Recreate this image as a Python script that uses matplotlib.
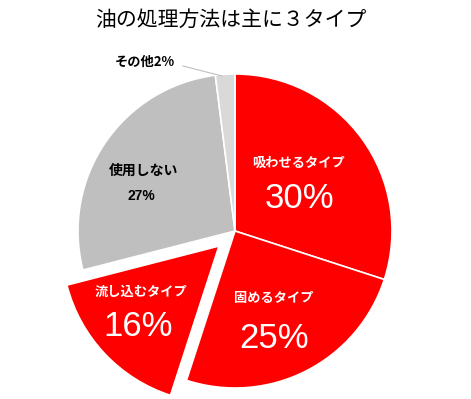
import matplotlib
matplotlib.use("Agg")
import matplotlib.pyplot as plt

# === Data ===

labels = ["吸わせるタイプ", "固めるタイプ", "流し込むタイプ", "使用しない", "その他"]
shares = [30, 25, 16, 27, 2]
colors = ["#FF0000", "#FF0000", "#FF0000", "#BFBFBF", "#D9D9D9"]
pulled = [False, False, True, False, False]
title = "油の処理方法は主に３タイプ"

plt.rcParams["font.family"] = ["Noto Sans CJK JP", "DejaVu Sans"]

W, H = 471, 399
fig = plt.figure(figsize=(W / 100, H / 100), dpi=100)
ax = fig.add_axes([0, 0, 1, 1])

cx, cy, r = 235, H - 231, 157
# explode is in data units here, so scale by the radius
explode = [0.14 * r if p else 0 for p in pulled]

ax.pie(
    shares,
    colors=colors,
    explode=explode,
    startangle=90,
    counterclock=False,
    center=(cx, cy),
    radius=r,
    wedgeprops=dict(edgecolor="white", linewidth=1.2),
    frame=True,
)
ax.set_xlim(0, W)
ax.set_ylim(0, H)
ax.set_aspect("equal")
ax.axis("off")

# === Labels (positions in pixel space, y from top) ===

def img(x, y):
    return x, H - y

pct_font = ["Liberation Sans", "Noto Sans CJK JP"]
inside = [
    (0, (299, 163), (299, 198), "white", 9.5, 25),
    (1, (274, 298), (274, 338), "white", 9.5, 25),
    (2, (141, 292), (138, 327), "white", 9.5, 25),
    (3, (144, 171), (141, 196), "black", 10, 10),
]
for i, pos_name, pos_pct, col, fs_name, fs_pct in inside:
    ax.text(*img(*pos_name), labels[i], ha="center", va="center",
            color=col, fontsize=fs_name, fontweight="bold")
    ax.text(*img(*pos_pct), f"{shares[i]}%", ha="center", va="center",
            color=col, fontsize=fs_pct, fontweight="bold" if fs_pct < 20 else "normal",
            family=pct_font)

# small slice with leader line
ax.plot([img(183, 66)[0], img(222, 76)[0]], [img(183, 66)[1], img(222, 76)[1]],
        color="#BFBFBF", lw=0.8)
ax.text(*img(145, 62), f"{labels[4]}{shares[4]}%", ha="center", va="center",
        color="black", fontsize=9.5, fontweight="bold")

fig.text(0.49, 1 - 20 / H, title, ha="center", va="center", fontsize=15)

fig.savefig("out.png", dpi=100, facecolor="white")
